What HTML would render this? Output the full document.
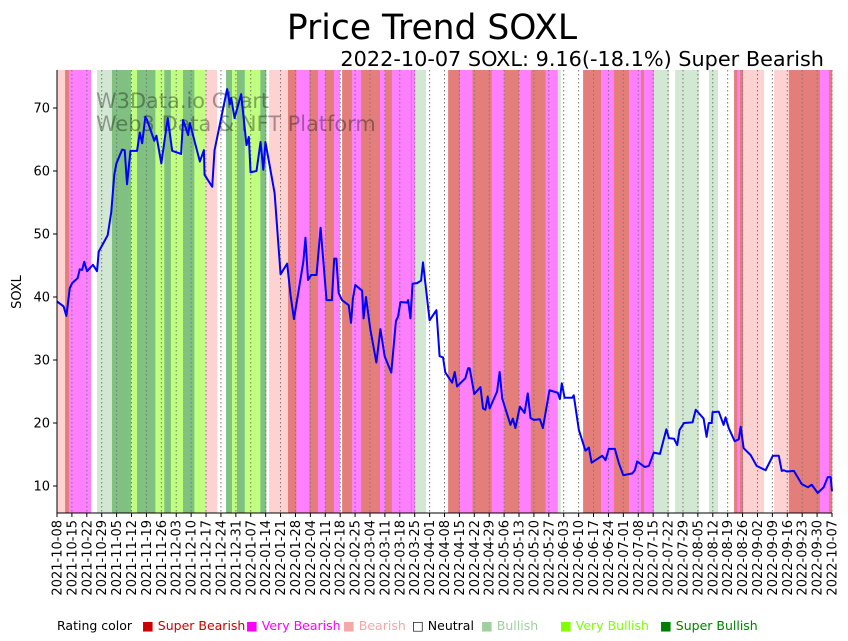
<!DOCTYPE html>
<html><head><meta charset="utf-8">
<style>
html,body{margin:0;padding:0;background:#fff;}
svg{display:block;font-family:"DejaVu Sans","Liberation Sans",sans-serif;}
</style></head>
<body>
<svg id="chart" width="848" height="641" viewBox="0 0 848 641" xmlns="http://www.w3.org/2000/svg">
  <text x="432" y="39" font-size="34.5" text-anchor="middle" fill="#000">Price Trend SOXL</text>
  <text x="824" y="66" font-size="20.8" text-anchor="end" fill="#000">2022-10-07 SOXL: 9.16(-18.1%) Super Bearish</text>
  <g id="bands"></g>
  <g id="grid"></g>
  <g fill="#000" fill-opacity="0.35" font-size="20.9">
    <text x="96" y="108">W3Data.io Chart</text>
    <text x="96" y="131">Web3 Data &amp; NFT Platform</text>
  </g>
  <path id="priceLine" fill="none" stroke="#0000ff" stroke-width="2" stroke-linejoin="round"></path>
  <g id="yaxis"></g>
  <g id="xaxis"></g>
  <text transform="translate(21,292) rotate(-90)" font-size="13" text-anchor="middle">SOXL</text>
  <g font-size="12.5">
    <text x="57" y="630">Rating color</text>
    <text x="142" y="630" fill="#cc0000">■ Super Bearish</text>
    <text x="246" y="630" fill="#ff00ff">■ Very Bearish</text>
    <text x="343" y="630" fill="#f4a8a8">■ Bearish</text>
    <text x="412" y="630" fill="#000">□ Neutral</text>
    <text x="481" y="630" fill="#a0d0a0">■ Bullish</text>
    <text x="560" y="630" fill="#80ff00">■ Very Bullish</text>
    <text x="660" y="630" fill="#008000">■ Super Bullish</text>
  </g>
</svg>
<script>
const priceDays = [0,3.1,4.4,6,7.1,9.7,10.7,11.8,12.8,14.1,16.9,18.8,19.6,23.8,25.5,26.9,27.9,30.6,31.8,32.9,34.5,37.6,38.9,40,41.5,42.3,45.7,46.7,49,52,54.1,58.3,59.2,61.6,62.4,67.1,69,69.3,72.9,74,79.9,81.2,81.8,83.4,86.5,89,90.1,90.9,93.7,95.6,96.9,97.9,102.2,105,108.1,109.7,111.3,115.7,116.7,117.9,119.4,121.9,123.8,126.6,129.1,130.2,131.2,132.3,133.9,137,138.1,139,140.1,143.3,144,145.1,147.2,150,151.9,153.9,157,159.2,160.2,161.3,164.4,164.9,166,167,169.1,171,171.9,173,175,178.2,179.7,181.3,182.4,185.6,186.8,187.9,191.8,193.1,193.8,196,198.9,200.1,201.2,202.3,203.2,206.7,207.9,209.1,213,214.1,215.3,217.4,219.6,221.1,222.4,223.9,226.8,228.2,231.3,235.2,236.2,237.1,238.4,242,242.7,245.1,248.2,249.8,251.1,256.1,257.6,259.2,262,263.9,266,270.2,271.4,272.5,276.1,278,280.3,283.2,286.2,287.4,289.8,291.3,292.4,294.5,298.5,300,303.7,305.1,306.1,307.5,307.9,310.8,313.1,314,315.5,318.3,320.2,321.1,322.5,325.8,328.6,332.8,336.2,339,340.4,341.4,342.8,346.1,349.8,352.7,354.5,357.3,360.1,362,363.4,364];
const priceValues = [39.3,38.5,37,41.4,42.2,43,44.4,44.3,45.6,44.1,45.1,44.1,47.2,49.8,53.5,59.4,61.2,63.4,63.3,57.9,63.2,63.2,66.1,64.4,68.6,68.1,64.8,65.6,61.2,68.4,63.2,62.7,68.1,65.7,67.6,61.5,63.3,59.4,57.5,63.3,73,70.6,71.6,68.4,72.2,64.1,65.4,59.8,60,64.6,60.2,64.6,56.5,43.6,45.3,40.3,36.5,45.6,49.4,42.7,43.5,43.5,51,39.5,39.5,46.1,46.1,40.6,39.5,38.7,35.9,39.8,41.9,41,36.6,40,34.8,29.6,34.9,30.6,28,36.2,36.9,39.2,39.1,39.5,36.6,42.1,42.2,42.6,45.5,42.2,36.3,37.9,30.6,30.4,28,26.4,28.1,25.8,27.1,28.7,28.7,24.6,25.7,22.3,22.1,24.2,22.3,25,28.1,23.9,19.7,20.7,19.2,22.6,21.6,24.7,20.8,20.5,20.6,19.2,25.2,24.8,23.8,26.3,24,24,24.4,18.9,15.6,16.1,13.7,14.8,14.1,15.9,15.9,13.6,11.7,12,12.5,13.9,13,13.2,15.3,15.1,19,17.6,17.5,16.5,18.9,20,20.1,22.1,20.7,17.8,20,20,21.7,21.8,19.7,20.9,19.2,17.1,17.4,19.4,16,14.9,13.2,12.5,14.8,14.8,12.4,12.5,12.3,12.4,10.3,9.8,10.2,8.9,9.8,11.4,11.4,9.16];
const bandStarts = [0,3.8,5.6,16,18.8,25.8,34.8,37.6,46.2,50.4,53.5,59.2,64.5,69.7,75.2,79.4,82.2,84.5,88.2,95.5,98.3,99.6,108.5,112.4,118.5,122.6,125.9,130.1,132.9,133.9,138.6,142.8,151.7,154.1,157.3,166.3,166.7,168.2,173.3,183.7,189.3,195.1,204.2,210.1,217,222.5,229.5,235.2,236.6,247.1,255.5,261.6,268.7,274.3,275.7,280.4,287.5,290.3,301.6,306.2,310.5,318,319.5,320.8,322.2,332.1,336.8,343.8,358.4,362.6];
const bandRatings = [2,0,1,3,4,6,5,6,5,6,5,6,5,2,3,6,5,6,5,6,3,2,0,1,0,1,0,1,3,0,1,0,1,0,1,0,1,4,3,0,1,0,1,0,1,0,1,4,3,0,1,0,1,0,1,4,3,4,3,4,3,0,1,0,2,3,2,0,1,0];
const yTicks = [10,20,30,40,50,60,70];
const startDate = "2021-10-08";
const totalDays = 364;

const ratingColors = ["#e47e7b","#ff80ff","#ffd2d2","#ffffff","#d3e8d3","#c0ff80","#80c080"];
const X0 = 57, X1 = 832, YT = 70, YB = 513;
function xScale(d){ return X0 + d/totalDays*(X1-X0); }
function yScale(v){ return 486 - (v-10)*(486-108)/60; }
const NS = "http://www.w3.org/2000/svg";
function mk(tag, attrs, parent){
  const e = document.createElementNS(NS, tag);
  for (const k in attrs) e.setAttribute(k, attrs[k]);
  parent.appendChild(e); return e;
}
const bandsG = document.getElementById('bands');
for (let i=0;i<bandStarts.length;i++){
  const s = bandStarts[i], e = i+1<bandStarts.length ? bandStarts[i+1] : totalDays;
  const r = mk('rect',{x:xScale(s),y:YT,width:Math.max(0,xScale(e)-xScale(s))+0.3,height:YB-YT,fill:ratingColors[bandRatings[i]]},bandsG);
  
  
}
const gridG = document.getElementById('grid');
const xG = document.getElementById('xaxis');
const base = new Date(startDate+"T00:00:00Z");
for (let d=0; d<=totalDays; d+=7){
  const x = xScale(d);
  const gl = mk('line',{x1:x,x2:x,y1:YT,y2:YB,stroke:"#777",'stroke-width':1,'stroke-dasharray':'1.5,2.5'},gridG);
  
  
  const tk = mk('line',{x1:x,x2:x,y1:YB,y2:YB+4,stroke:"#000"},xG);
  
  
  const dt = new Date(base.getTime()+d*86400000);
  const lbl = dt.toISOString().slice(0,10);
  const t = mk('text',{transform:`translate(${x+4.5},${YB+7}) rotate(-90)`,'font-size':13,'text-anchor':'end'},xG);
  t.textContent = lbl;
  
  
}
const xs = mk('line',{x1:X0,x2:X1,y1:YB,y2:YB,stroke:"#000"},xG);


const yG = document.getElementById('yaxis');
const ys = mk('line',{x1:X0,x2:X0,y1:YT,y2:YB,stroke:"#000"},yG);


yTicks.forEach(v=>{
  const y = yScale(v);
  const tk = mk('line',{x1:X0-4,x2:X0,y1:y,y2:y,stroke:"#000"},yG);
  
  
  const t = mk('text',{x:X0-7,y:y+4.5,'font-size':13,'text-anchor':'end'},yG);
  t.textContent = v;
  
  
});
let dstr = "";
for (let i=0;i<priceDays.length;i++){
  dstr += (i?"L":"M") + xScale(priceDays[i]).toFixed(2) + "," + yScale(priceValues[i]).toFixed(2);
}
document.getElementById('priceLine').setAttribute('d', dstr);
</script>
</body></html>
